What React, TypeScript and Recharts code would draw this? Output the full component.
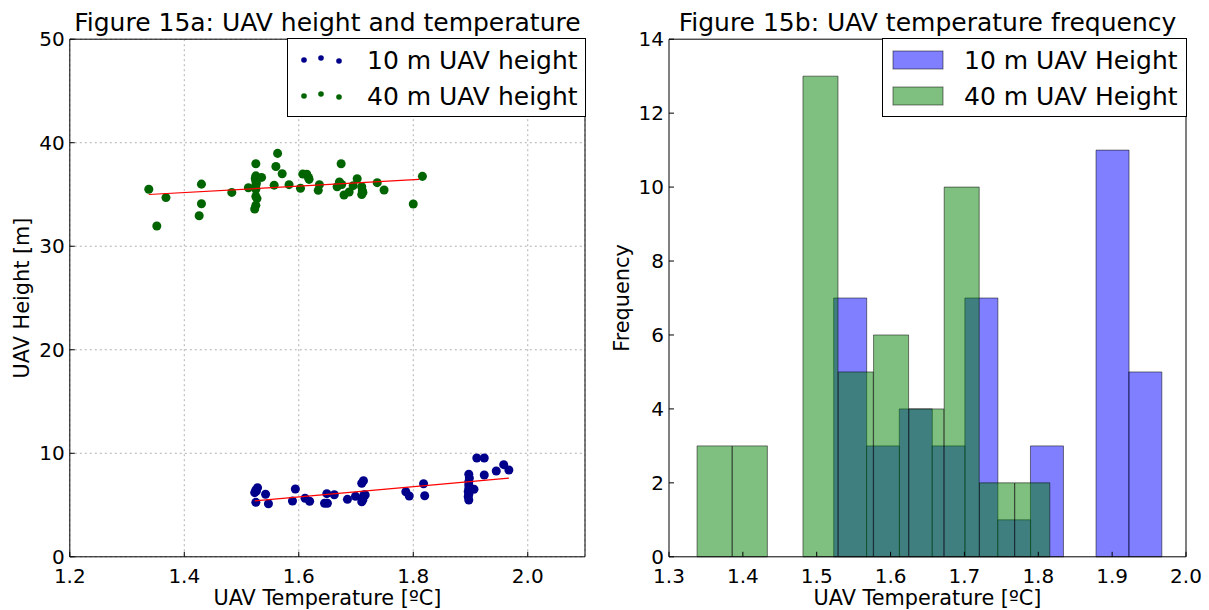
import React from 'react';
import {
  ScatterChart,
  Scatter,
  ComposedChart,
  Bar,
  XAxis,
  YAxis,
  ZAxis,
  CartesianGrid,
  Legend,
} from 'recharts';

const FONT = '"DejaVu Sans", sans-serif';

// Figure 15a: UAV temperature [ºC] vs height [m]
const temp10 = [
  1.525, 1.528, 1.523, 1.525, 1.542, 1.547, 1.526,
  1.594, 1.589, 1.611,
  1.619, 1.645, 1.65, 1.649,
  1.662, 1.685, 1.699,
  1.71, 1.711, 1.716, 1.71, 1.713, 1.712, 1.714,
  1.787,
  1.793, 1.818, 1.82,
  1.897, 1.897, 1.897, 1.897, 1.897, 1.897, 1.906, 1.911, 1.896, 1.898, 1.896,
  1.924, 1.924, 1.945, 1.958, 1.967,
];
const height10 = [
  6.45, 6.68, 6.2, 5.26, 6.04, 5.13, 6.35,
  6.55, 5.39, 5.65,
  5.36, 5.17, 5.17, 6.1,
  6.0, 5.55, 5.84,
  5.32, 5.65, 5.97, 7.1, 7.35, 5.5, 6.0,
  6.29,
  5.87, 7.06, 5.9,
  7.97, 7.25, 6.93, 6.6, 6.04, 5.49, 6.52, 9.54, 6.3, 7.6, 5.8,
  9.54, 7.9, 8.29, 8.9, 8.38,
];
const temp40 = [
  1.338, 1.352, 1.368, 1.43, 1.43, 1.426, 1.483, 1.512,
  1.525, 1.525, 1.525, 1.525, 1.525, 1.525, 1.523, 1.524, 1.526, 1.525, 1.527,
  1.535, 1.557, 1.56, 1.563, 1.571,
  1.583, 1.603, 1.607, 1.614, 1.617, 1.618,
  1.634, 1.636, 1.667, 1.671,
  1.674, 1.675, 1.679, 1.688, 1.695, 1.702, 1.71, 1.711, 1.71, 1.712,
  1.737, 1.749, 1.8, 1.816,
];
const height40 = [
  35.5, 31.95, 34.7, 36.0, 34.1, 32.95, 35.2, 35.65,
  37.97, 36.8, 36.3, 35.9, 34.8, 33.95, 33.6, 36.55, 36.1, 35.5, 34.6,
  36.65, 35.9, 37.7, 38.97, 37.0,
  35.95, 35.6, 36.97, 36.95, 36.65, 36.46,
  35.4, 35.95, 35.75, 36.2,
  37.97, 35.97, 34.95, 35.24, 35.85, 36.52, 35.75, 35.37, 35.0, 35.2,
  36.14, 35.43, 34.08, 36.75,
];

// red fit lines, end points
const fit10Temp = [1.523, 1.967];
const fit10Height = [5.4, 7.6];
const fit40Temp = [1.338, 1.81];
const fit40Height = [35.0, 36.45];

const scatterXTicks = [1.2, 1.4, 1.6, 1.8, 2.0];
const scatterYTicks = [0, 10, 20, 30, 40, 50];
const scatterNames = ['10 m UAV height', '40 m UAV height'];
const scatterColors = ['#00008b', '#006400'];

// Figure 15b: histogram bins
const binEdges10 = [1.523, 1.5674, 1.6118, 1.6562, 1.7006, 1.745, 1.7894, 1.8338, 1.8782, 1.9226, 1.967];
const counts10 = [7, 3, 4, 3, 7, 1, 3, 0, 11, 5];
const binEdges40 = [1.338, 1.3858, 1.4336, 1.4814, 1.5292, 1.577, 1.6248, 1.6726, 1.7204, 1.7682, 1.816];
const counts40 = [3, 3, 0, 13, 5, 6, 4, 10, 2, 2];

const histXTicks = [1.3, 1.4, 1.5, 1.6, 1.7, 1.8, 1.9, 2.0];
const histYTicks = [0, 2, 4, 6, 8, 10, 12, 14];
const histNames = ['10 m UAV Height', '40 m UAV Height'];
const histColors = ['#0000ff', '#008000'];

const toPoints = (xs: number[], ys: number[]) => xs.map((t, i) => ({ t, h: ys[i] }));

const points10 = toPoints(temp10, height10);
const points40 = toPoints(temp40, height40);
const fit10 = toPoints(fit10Temp, fit10Height);
const fit40 = toPoints(fit40Temp, fit40Height);

const histRows = counts10.map((c, i) => ({
  xb: (binEdges10[i] + binEdges10[i + 1]) / 2,
  b: c,
  xg: (binEdges40[i] + binEdges40[i + 1]) / 2,
  g: counts40[i],
}));

const tickStyle = { fill: '#000', fontSize: 20, fontFamily: FONT };
const labelStyle = { fill: '#000', fontSize: 20.8, fontFamily: FONT };
const titleStyle = { fill: '#000', fontSize: 25, fontFamily: FONT };
const black = { stroke: '#000', strokeWidth: 1 };

const noMark = () => <g />;

const dotOffsets = [
  [17, 22],
  [34, 20],
  [52, 23],
];

const ScatterKey = () => (
  <svg width={299} height={79} style={{ display: 'block' }}>
    <rect x={0.5} y={0.5} width={298} height={78} fill="#fff" stroke="#000" />
    {scatterNames.map((name, i) => (
      <g key={name} transform={`translate(0, ${i * 36})`}>
        {dotOffsets.map(([dx, dy], j) => (
          <circle key={j} cx={dx} cy={dy} r={2.8} fill={scatterColors[i]} />
        ))}
        <text x={80} y={31} fontSize={25} fontFamily={FONT} fill="#000">
          {name}
        </text>
      </g>
    ))}
  </svg>
);

const HistKey = () => (
  <svg width={305} height={79} style={{ display: 'block' }}>
    <rect x={0.5} y={0.5} width={304} height={78} fill="#fff" stroke="#000" />
    {histNames.map((name, i) => (
      <g key={name} transform={`translate(0, ${i * 36})`}>
        <rect
          x={11}
          y={13}
          width={50}
          height={18}
          fill={histColors[i]}
          fillOpacity={0.5}
          stroke="#000"
          strokeOpacity={0.5}
        />
        <text x={82} y={31} fontSize={25} fontFamily={FONT} fill="#000">
          {name}
        </text>
      </g>
    ))}
  </svg>
);

const HeightScatter = () => (
  <ScatterChart width={600} height={610} margin={{ top: 38.2, right: 14, bottom: 13.2, left: 9.8 }}>
    <CartesianGrid xAxisId="x" yAxisId="y" stroke="#b0b0b0" strokeDasharray="2 3" />
    <XAxis
      xAxisId="x"
      dataKey="t"
      type="number"
      domain={[1.2, 2.1]}
      ticks={scatterXTicks}
      tickFormatter={(v) => v.toFixed(1)}
      height={40}
      tickSize={-5}
      tickMargin={17}
      tick={tickStyle}
      axisLine={black}
      tickLine={black}
      label={{ value: 'UAV Temperature [ºC]', position: 'insideBottom', offset: -8, style: labelStyle }}
    />
    <XAxis
      xAxisId="top"
      orientation="top"
      type="number"
      domain={[1.2, 2.1]}
      ticks={scatterXTicks}
      height={1}
      tickSize={-5}
      tick={false}
      axisLine={black}
      tickLine={black}
      label={{ value: 'Figure 15a: UAV height and temperature', position: 'top', offset: 7, style: titleStyle }}
    />
    <YAxis
      yAxisId="y"
      dataKey="h"
      type="number"
      domain={[0, 50]}
      ticks={scatterYTicks}
      width={60}
      tickSize={-5}
      tickMargin={10}
      tick={tickStyle}
      axisLine={black}
      tickLine={black}
      label={{
        value: 'UAV Height [m]',
        angle: -90,
        position: 'insideLeft',
        offset: 12,
        style: { ...labelStyle, textAnchor: 'middle' },
      }}
    />
    <YAxis
      yAxisId="right"
      orientation="right"
      type="number"
      domain={[0, 50]}
      ticks={scatterYTicks}
      width={1}
      tickSize={-5}
      tick={false}
      axisLine={black}
      tickLine={black}
    />
    <ZAxis range={[28, 28]} />
    <Scatter
      name={scatterNames[0]}
      data={points10}
      xAxisId="x"
      yAxisId="y"
      fill={scatterColors[0]}
      isAnimationActive={false}
    />
    <Scatter
      name={scatterNames[1]}
      data={points40}
      xAxisId="x"
      yAxisId="y"
      fill={scatterColors[1]}
      isAnimationActive={false}
    />
    <Scatter
      data={fit10}
      xAxisId="x"
      yAxisId="y"
      line={{ stroke: '#ff0000', strokeWidth: 1.2 }}
      shape={noMark}
      legendType="none"
      isAnimationActive={false}
    />
    <Scatter
      data={fit40}
      xAxisId="x"
      yAxisId="y"
      line={{ stroke: '#ff0000', strokeWidth: 1.2 }}
      shape={noMark}
      legendType="none"
      isAnimationActive={false}
    />
    <Legend
      layout="vertical"
      align="center"
      verticalAlign="middle"
      content={<ScatterKey />}
      wrapperStyle={{ left: 287, top: 38, width: 299, height: 79 }}
    />
  </ScatterChart>
);

const TempHistogram = () => (
  <ComposedChart
    width={609}
    height={610}
    data={histRows}
    barCategoryGap={0}
    barGap={0}
    margin={{ top: 38.2, right: 22, bottom: 13.2, left: 14 }}
  >
    <XAxis
      xAxisId="g"
      dataKey="xg"
      type="number"
      domain={[1.3, 2.0]}
      ticks={histXTicks}
      tickFormatter={(v) => v.toFixed(1)}
      height={40}
      tickSize={-5}
      tickMargin={17}
      tick={tickStyle}
      axisLine={black}
      tickLine={black}
      label={{ value: 'UAV Temperature [ºC]', position: 'insideBottom', offset: -8, style: labelStyle }}
    />
    <XAxis
      xAxisId="top"
      orientation="top"
      type="number"
      domain={[1.3, 2.0]}
      ticks={histXTicks}
      height={1}
      tickSize={-5}
      tick={false}
      axisLine={black}
      tickLine={black}
      label={{ value: 'Figure 15b: UAV temperature frequency', position: 'top', offset: 7, style: titleStyle }}
    />
    <XAxis xAxisId="b" dataKey="xb" type="number" domain={[1.3, 2.0]} orientation="top" height={0} hide />
    <YAxis
      yAxisId="l"
      type="number"
      domain={[0, 14]}
      ticks={histYTicks}
      width={55}
      tickSize={-5}
      tickMargin={10}
      tick={tickStyle}
      axisLine={black}
      tickLine={black}
      label={{
        value: 'Frequency',
        angle: -90,
        position: 'insideLeft',
        offset: 8,
        style: { ...labelStyle, textAnchor: 'middle' },
      }}
    />
    <YAxis
      yAxisId="r"
      orientation="right"
      type="number"
      domain={[0, 14]}
      ticks={histYTicks}
      width={1}
      tickSize={-5}
      tick={false}
      axisLine={black}
      tickLine={black}
    />
    <Bar
      name={histNames[0]}
      dataKey="b"
      xAxisId="b"
      yAxisId="l"
      fill={histColors[0]}
      fillOpacity={0.5}
      stroke="#000"
      strokeOpacity={0.5}
      isAnimationActive={false}
    />
    <Bar
      name={histNames[1]}
      dataKey="g"
      xAxisId="g"
      yAxisId="l"
      fill={histColors[1]}
      fillOpacity={0.5}
      stroke="#000"
      strokeOpacity={0.5}
      isAnimationActive={false}
    />
    <Legend
      layout="vertical"
      align="center"
      verticalAlign="middle"
      content={<HistKey />}
      wrapperStyle={{ left: 282, top: 38, width: 305, height: 79 }}
    />
  </ComposedChart>
);

export default function App() {
  return (
    <div
      style={{
        position: 'absolute',
        left: 0,
        top: 0,
        width: 1209,
        height: 610,
        background: '#fff',
        fontFamily: FONT,
      }}
    >
      <div style={{ position: 'absolute', left: 0, top: 0 }}>
        <HeightScatter />
      </div>
      <div style={{ position: 'absolute', left: 600, top: 0 }}>
        <TempHistogram />
      </div>
    </div>
  );
}
